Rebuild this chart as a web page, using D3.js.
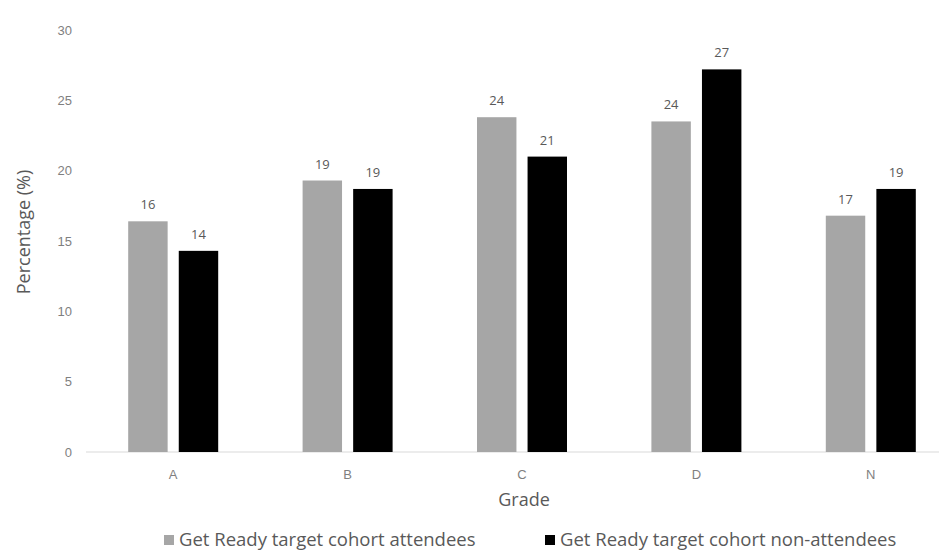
<!DOCTYPE html>
<html>
<head>
<meta charset="utf-8">
<script src="https://cdn.jsdelivr.net/npm/d3@7"></script>
<style>
  html, body { margin: 0; padding: 0; background: #fff; }
  svg { display: block; font-family: "Open Sans", "Liberation Sans", sans-serif; }
</style>
</head>
<body>
<svg id="chart" width="939" height="553"></svg>
<script>
// Grade distribution by attendance group
const grades = ["A", "B", "C", "D", "N"];
const seriesNames = ["Get Ready target cohort attendees", "Get Ready target cohort non-attendees"];
const attendees = [16.4, 19.3, 23.8, 23.5, 16.8];
const nonAttendees = [14.3, 18.7, 21.0, 27.2, 18.7];
const yTicks = [0, 5, 10, 15, 20, 25, 30];
const colors = ["#a6a6a6", "#000000"];

const svg = d3.select("#chart");
const W = 939, H = 553;
const plot = { left: 86, right: 958, top: 30, bottom: 452 };

const x = d3.scaleBand().domain(grades).range([plot.left, plot.right]).paddingInner(0).paddingOuter(0);
const inner = d3.scaleBand().domain([0, 1]).range([x.bandwidth() / 2 - 45, x.bandwidth() / 2 + 45]).paddingInner(0.22);
const y = d3.scaleLinear().domain([0, 30]).range([plot.bottom, plot.top]);

// y axis labels (no line, no tick marks)
const yAxis = d3.axisLeft(y).tickValues(yTicks).tickSize(0).tickPadding(0);
const gy = svg.append("g").attr("transform", `translate(${plot.left - 14},0)`).call(yAxis);
gy.select(".domain").remove();
gy.selectAll("text").attr("fill", "#7f7f7f").style("font-size", "13px");

// baseline
svg.append("line")
  .attr("x1", plot.left).attr("x2", W)
  .attr("y1", y(0)).attr("y2", y(0))
  .attr("stroke", "#d9d9d9").attr("stroke-width", 1);

// x axis labels
const xAxis = d3.axisBottom(x).tickSize(0).tickPadding(18);
const gx = svg.append("g").attr("transform", `translate(0,${plot.bottom})`).call(xAxis);
gx.select(".domain").remove();
gx.selectAll("text").attr("fill", "#7f7f7f").style("font-size", "13px");

// bars
const series = [attendees, nonAttendees];
series.forEach((vals, si) => {
  const g = svg.append("g");
  g.selectAll("rect").data(vals).join("rect")
    .attr("x", (d, i) => x(grades[i]) + inner(si))
    .attr("y", d => y(d))
    .attr("width", inner.bandwidth())
    .attr("height", d => y(0) - y(d))
    .attr("fill", colors[si]);
  g.selectAll("text").data(vals).join("text")
    .attr("x", (d, i) => x(grades[i]) + inner(si) + inner.bandwidth() / 2)
    .attr("y", d => y(d) - 12)
    .attr("text-anchor", "middle")
    .attr("fill", "#595959")
    .style("font-size", "13px")
    .text(d => d3.format(".0f")(d));
});

// axis titles
svg.append("text")
  .attr("transform", `translate(30,232) rotate(-90)`)
  .attr("text-anchor", "middle")
  .attr("fill", "#595959")
  .style("font-size", "18px")
  .text("Percentage (%)");

svg.append("text")
  .attr("x", 524).attr("y", 506)
  .attr("text-anchor", "middle")
  .attr("fill", "#595959")
  .style("font-size", "18px")
  .text("Grade");

// legend
const legendX = [164, 545];
seriesNames.forEach((name, si) => {
  const lg = svg.append("g").attr("transform", `translate(${legendX[si]},535)`);
  lg.append("rect").attr("width", 10).attr("height", 10).attr("fill", colors[si]);
  lg.append("text").attr("x", 15).attr("y", 11)
    .attr("fill", "#595959")
    .style("font-size", "18.5px")
    .text(name);
});
</script>
</body>
</html>
